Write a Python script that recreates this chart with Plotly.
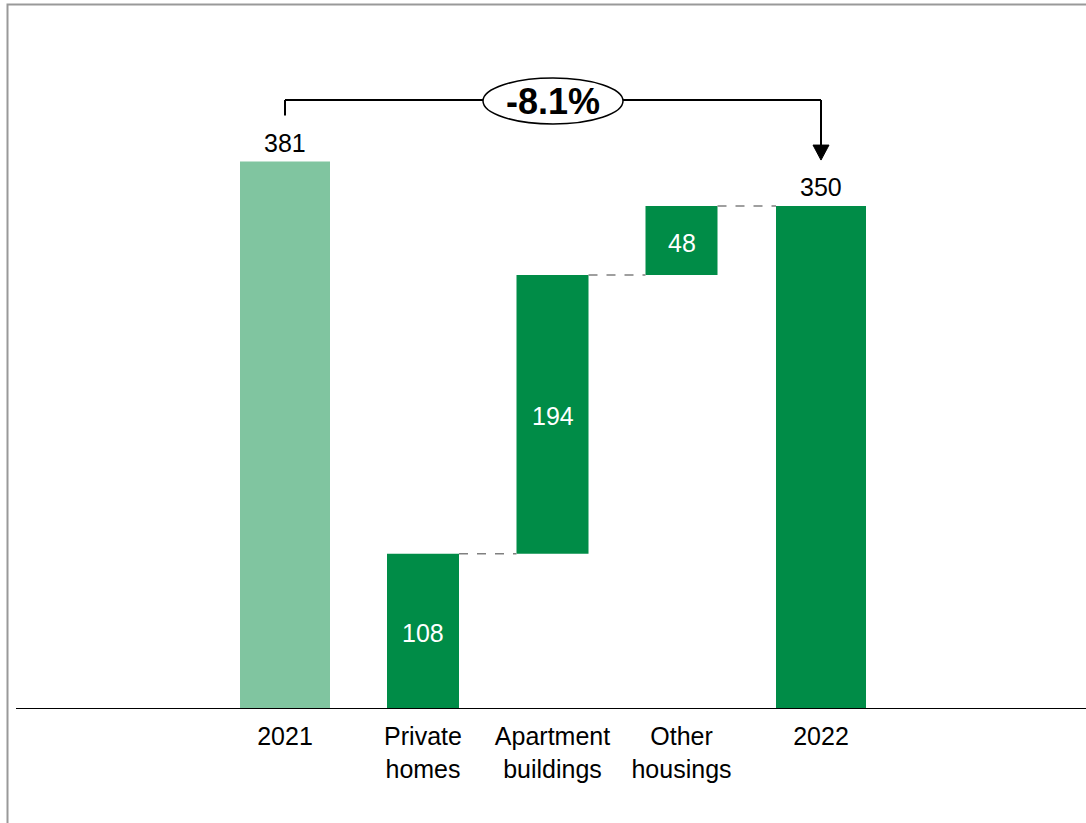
import plotly.graph_objects as go

# ---- data ----
categories = ["2021", "Private<br>homes", "Apartment<br>buildings", "Other<br>housings", "2022"]
values = [381, 108, 194, 48, 350]
kinds = ["total", "part", "part", "part", "total"]

# ---- layout constants (pixels-as-axis-units on x) ----
x_pos = [285, 423, 552.5, 681.5, 821]
widths = [90, 72, 72, 72, 90]
colors = ["#80C5A0", "#008C47", "#008C47", "#008C47", "#008C47"]
W, H = 1086, 823
base_px = 709           # pixel row of value 0
px_per_unit = 1.437
y_top = base_px / px_per_unit

def px_to_val(py):
    return (base_px - py) / px_per_unit

def px_to_paper_y(py):
    return (base_px - py) / base_px

# bases: parts stack from 0 upward
bases = []
running = 0
for v, k in zip(values, kinds):
    if k == "total":
        bases.append(0)
    else:
        bases.append(running)
        running += v

FONT = "Arial, Liberation Sans, Helvetica, sans-serif"
FS = 25

fig = go.Figure()
fig.add_trace(go.Bar(
    x=x_pos, y=values, base=bases, width=widths,
    marker=dict(color=colors, line=dict(width=0)),
    hoverinfo="skip",
))

shapes = []
annotations = []

# value labels
for i, (v, b, k) in enumerate(zip(values, bases, kinds)):
    if k == "total":
        annotations.append(dict(x=x_pos[i], y=b + v, text=str(v), showarrow=False,
                                yanchor="bottom", yshift=3,
                                font=dict(family=FONT, size=FS, color="black")))
    else:
        annotations.append(dict(x=x_pos[i], y=b + v / 2, text=str(v), showarrow=False,
                                yanchor="middle", yshift=-2,
                                font=dict(family=FONT, size=FS, color="white")))

# dashed connectors between stacked parts / total
for i in range(1, len(values) - 1):
    top = bases[i] + values[i]
    x0 = x_pos[i] + widths[i] / 2
    x1 = x_pos[i + 1] - widths[i + 1] / 2
    shapes.append(dict(type="line", xref="x", yref="y", x0=x0, x1=x1, y0=top, y1=top,
                       line=dict(color="#808080", width=1.5, dash="dash")))

# baseline
shapes.append(dict(type="line", xref="x", yref="y", x0=16, x1=W, y0=0, y1=0,
                   line=dict(color="black", width=2)))

# frame (left and top edges visible), paper refs so it is not clipped
shapes.append(dict(type="rect", xref="paper", yref="paper", x0=7.5 / W, x1=(W + 20) / W,
                   y0=px_to_paper_y(H + 20), y1=px_to_paper_y(4.5),
                   line=dict(color="#999999", width=2), fillcolor="rgba(0,0,0,0)",
                   layer="below"))

# change bracket
first, last = values[0], values[-1]
pct = (last - first) / first * 100
bracket_y = px_to_val(100)
offset = 32
ell_x0, ell_x1 = 483, 623
ell_y0, ell_y1 = px_to_val(124), px_to_val(78)
line_style = dict(color="black", width=2)
shapes.append(dict(type="line", xref="x", yref="y", x0=x_pos[0], x1=x_pos[0],
                   y0=first + offset, y1=bracket_y, line=line_style))
shapes.append(dict(type="line", xref="x", yref="y", x0=x_pos[0], x1=ell_x0,
                   y0=bracket_y, y1=bracket_y, line=line_style))
shapes.append(dict(type="line", xref="x", yref="y", x0=ell_x1, x1=x_pos[-1],
                   y0=bracket_y, y1=bracket_y, line=line_style))
tip = last + offset
head_len = 15 / px_per_unit
shapes.append(dict(type="line", xref="x", yref="y", x0=x_pos[-1], x1=x_pos[-1],
                   y0=bracket_y, y1=tip + head_len * 0.5, line=line_style))
shapes.append(dict(type="path", xref="x", yref="y",
                   path=f"M {x_pos[-1]-8},{tip+head_len} L {x_pos[-1]+8},{tip+head_len} L {x_pos[-1]},{tip} Z",
                   fillcolor="black", line=dict(color="black", width=1)))
shapes.append(dict(type="circle", xref="x", yref="y", x0=ell_x0, x1=ell_x1,
                   y0=ell_y0, y1=ell_y1, fillcolor="white",
                   line=dict(color="black", width=1.5)))
annotations.append(dict(x=(ell_x0 + ell_x1) / 2, y=(ell_y0 + ell_y1) / 2,
                        text=f"<b>{pct:.1f}%</b>", showarrow=False,
                        font=dict(family=FONT, size=36, color="black")))

fig.update_layout(
    width=W, height=H,
    margin=dict(l=0, r=0, t=0, b=H - base_px, pad=0),
    paper_bgcolor="white", plot_bgcolor="rgba(0,0,0,0)",
    showlegend=False,
    xaxis=dict(range=[0, W], tickmode="array", tickvals=x_pos, ticktext=categories,
               showgrid=False, zeroline=False, showline=False, ticks="",
               ticklabelstandoff=10,
               tickfont=dict(family=FONT, size=FS, color="black"), fixedrange=True),
    yaxis=dict(range=[0, y_top], showgrid=False, zeroline=False, showline=False,
               showticklabels=False, ticks="", fixedrange=True),
    shapes=shapes,
    annotations=annotations,
)

fig.write_html("out.html")
